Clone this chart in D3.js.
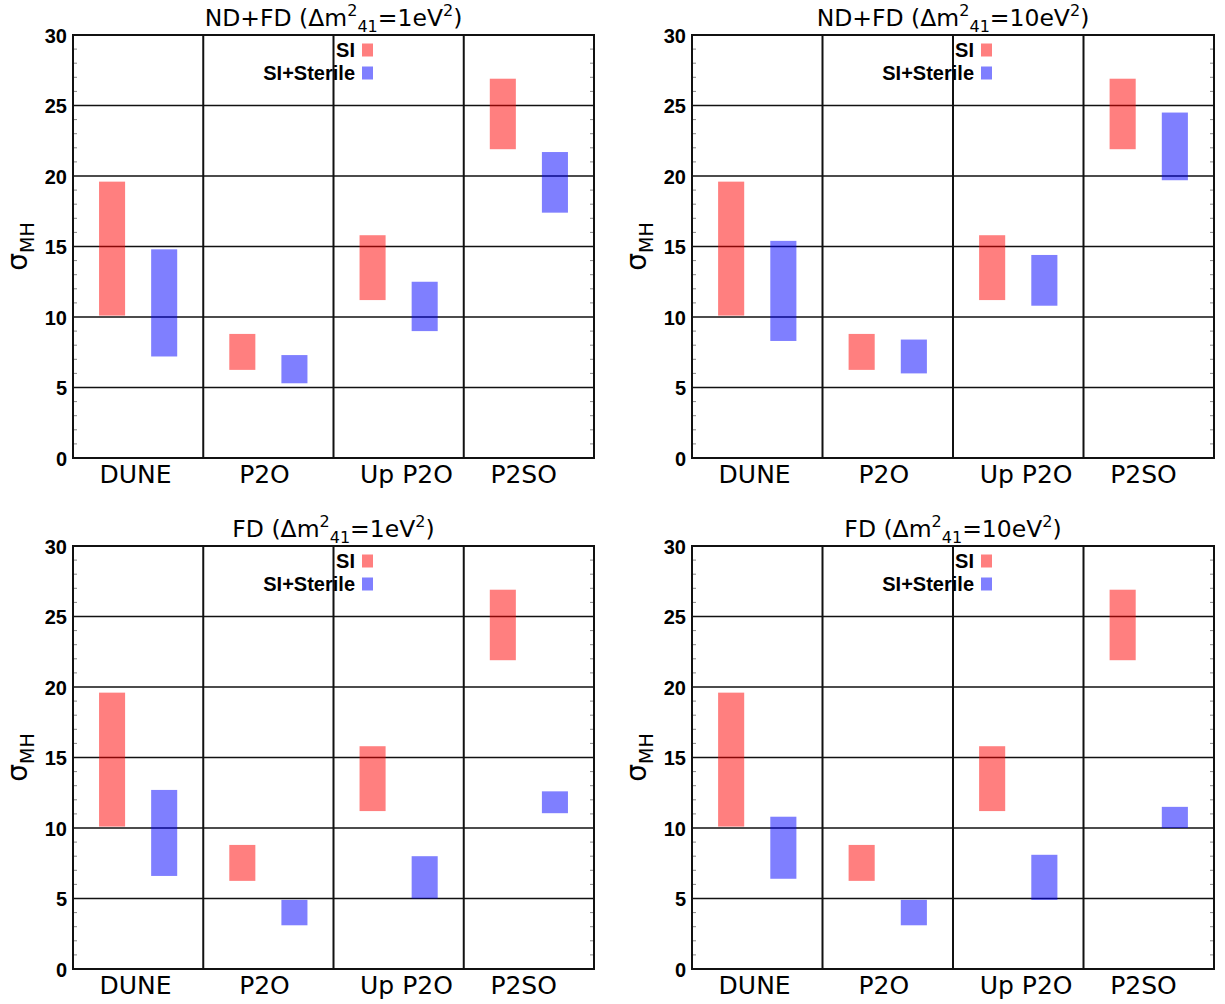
<!DOCTYPE html>
<html><head><meta charset="utf-8">
<script src="https://cdn.jsdelivr.net/npm/d3@7"></script>
<style>body{margin:0;background:#fff}</style>
</head><body>
<svg id="chart" width="1225" height="1004"></svg>
<script>
const categories = ["DUNE", "P2O", "Up P2O", "P2SO"];
const categoryLabelPos = [0.48, 1.47, 2.56, 3.46];
const yTicks = [0, 5, 10, 15, 20, 25, 30];
const siLow  = [10.1, 6.25, 11.2, 21.9];
const siHigh = [19.6, 8.8, 15.8, 26.9];
const ndfd1Low  = [7.2, 5.3, 9.0, 17.4];
const ndfd1High = [14.8, 7.3, 12.5, 21.7];
const ndfd10Low  = [8.3, 6.0, 10.8, 19.7];
const ndfd10High = [15.4, 8.4, 14.4, 24.5];
const fd1Low  = [6.6, 3.1, 5.0, 11.05];
const fd1High = [12.7, 4.9, 8.0, 12.6];
const fd10Low  = [6.4, 3.1, 4.9, 10.0];
const fd10High = [10.8, 4.9, 8.1, 11.5];
const panelPrefix = ["ND+FD", "ND+FD", "FD", "FD"];
const panelMass = ["1", "10", "1", "10"];
const sterileLow = [ndfd1Low, ndfd10Low, fd1Low, fd10Low];
const sterileHigh = [ndfd1High, ndfd10High, fd1High, fd10High];
const legendNames = ["SI", "SI+Sterile"];

const svg = d3.select("#chart");
const layout = [
  {x: 73, y: 35, w: 521, h: 423},
  {x: 692, y: 35, w: 522, h: 423},
  {x: 73, y: 546, w: 521, h: 423},
  {x: 692, y: 546, w: 522, h: 423}
];
const colSI = "rgba(255,0,0,0.5)";
const colSt = "rgba(0,0,255,0.5)";

layout.forEach((L, p) => {
  const g = svg.append("g").attr("transform", `translate(${L.x},${L.y})`);
  const x = d3.scaleLinear().domain([0, 4]).range([0, L.w]);
  const y = d3.scaleLinear().domain([0, 30]).range([L.h, 0]);

  // horizontal grid
  g.append("g").selectAll("line").data(yTicks.filter(t => t > 0 && t < 30)).join("line")
    .attr("x1", 0).attr("x2", L.w).attr("y1", d => y(d)).attr("y2", d => y(d))
    .attr("stroke", "#111").attr("stroke-width", 1.3);

  // minor ticks on left and right
  const minor = d3.range(1, 30).filter(v => v % 5 !== 0);
  g.append("g").selectAll("line").data(minor).join("line")
    .attr("x1", 0).attr("x2", 4).attr("y1", d => y(d)).attr("y2", d => y(d))
    .attr("stroke", "#888").attr("stroke-width", 1);
  g.append("g").selectAll("line").data(minor).join("line")
    .attr("x1", L.w - 4).attr("x2", L.w).attr("y1", d => y(d)).attr("y2", d => y(d))
    .attr("stroke", "#888").attr("stroke-width", 1);

  // vertical dividers
  g.append("g").selectAll("line").data([1, 2, 3]).join("line")
    .attr("x1", d => x(d)).attr("x2", d => x(d)).attr("y1", 0).attr("y2", L.h)
    .attr("stroke", "#111").attr("stroke-width", 2);

  // bars
  const bw = x(0.2) - x(0);
  g.append("g").selectAll("rect").data(categories.map((c, i) => i)).join("rect")
    .attr("x", i => x(i + 0.3) - bw / 2).attr("width", bw)
    .attr("y", i => y(siHigh[i])).attr("height", i => y(siLow[i]) - y(siHigh[i]))
    .attr("fill", colSI);
  g.append("g").selectAll("rect").data(categories.map((c, i) => i)).join("rect")
    .attr("x", i => x(i + 0.7) - bw / 2).attr("width", bw)
    .attr("y", i => y(sterileHigh[p][i])).attr("height", i => y(sterileLow[p][i]) - y(sterileHigh[p][i]))
    .attr("fill", colSt);

  // border
  g.append("rect").attr("x", 0).attr("y", 0).attr("width", L.w).attr("height", L.h)
    .attr("fill", "none").attr("stroke", "#111").attr("stroke-width", 2);

  // y axis tick labels
  const yAxis = d3.axisLeft(y).tickValues(yTicks).tickSize(0).tickPadding(6);
  const ya = g.append("g").call(yAxis);
  ya.select(".domain").remove();
  ya.selectAll("text").attr("font-family", "Liberation Sans, Arial, sans-serif")
    .attr("font-weight", "bold").attr("font-size", 20).attr("fill", "#000").attr("dy", "0.36em");

  // x category labels
  g.append("g").selectAll("text").data(categories).join("text")
    .attr("x", (d, i) => x(categoryLabelPos[i])).attr("y", L.h + 25)
    .attr("text-anchor", "middle").attr("font-family", "DejaVu Sans, sans-serif")
    .attr("font-size", 25).attr("fill", "#000").text(d => d);

  // title
  const t = g.append("text").attr("x", L.w / 2).attr("y", -9).attr("text-anchor", "middle")
    .attr("font-family", "DejaVu Sans, sans-serif").attr("font-size", 23.5).attr("fill", "#000");
  t.append("tspan").text(panelPrefix[p] + " (Δm");
  t.append("tspan").attr("font-size", 16).attr("dy", -10).text("2");
  t.append("tspan").attr("font-size", 16).attr("dy", 16).text("41");
  t.append("tspan").attr("dy", -6).text("=" + panelMass[p] + "eV");
  t.append("tspan").attr("font-size", 16).attr("dy", -10).text("2");
  t.append("tspan").attr("dy", 10).text(")");

  // y label
  const yl = g.append("text").attr("transform", `translate(${-46},${L.h / 2}) rotate(-90)`)
    .attr("text-anchor", "middle").attr("font-family", "DejaVu Sans, sans-serif")
    .attr("font-size", 28).attr("fill", "#000");
  yl.append("tspan").text("σ");
  yl.append("tspan").attr("font-size", 19).attr("dy", 7).text("MH");

  // legend
  const lg = g.append("g");
  legendNames.forEach((n, k) => {
    const cy = 15 + k * 23;
    lg.append("text").attr("x", 282).attr("y", cy).attr("dy", "0.36em").attr("text-anchor", "end")
      .attr("font-family", "Liberation Sans, Arial, sans-serif").attr("font-weight", "bold")
      .attr("font-size", 20).attr("fill", "#000").text(n);
    lg.append("rect").attr("x", 289).attr("y", cy - 6.5).attr("width", 11).attr("height", 13)
      .attr("fill", k === 0 ? colSI : colSt);
  });
});
</script>
</body></html>
